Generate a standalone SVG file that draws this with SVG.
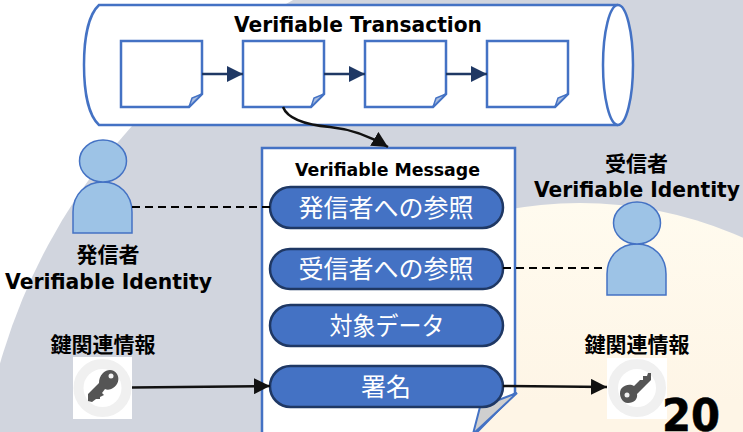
<svg xmlns="http://www.w3.org/2000/svg" width="743" height="432" viewBox="0 0 743 432">
<style>
.l{font-family:"DejaVu Sans","Noto Sans CJK JP",sans-serif;font-weight:700;fill:#000;text-anchor:middle}
.j{font-family:"Noto Sans CJK JP",sans-serif;font-weight:700;font-size:21px;fill:#000;text-anchor:middle}
.p{font-family:"Noto Sans CJK JP",sans-serif;font-size:25px;fill:#fff;text-anchor:middle}
.doc{fill:#fff;stroke:#4472c4;stroke-width:2.5}
.fold{fill:#a9bde0;stroke:#4472c4;stroke-width:1.5}
.pill{fill:#4472c4;stroke:#1f3864;stroke-width:2.5}
.per{fill:#9dc3e6;stroke:#4472c4;stroke-width:1.5}
.key{fill:#555}
.ring{fill:none;stroke:#f0f0f0;stroke-width:10}
.nav{stroke:#1f3864;stroke-width:2.5;fill:none;marker-end:url(#an)}
.blk{stroke:#111;stroke-width:2.5;fill:none;marker-end:url(#ab)}
.dash{stroke:#000;stroke-width:2;stroke-dasharray:8 5;fill:none}
</style>
<defs>
<marker id="an" markerUnits="userSpaceOnUse" markerWidth="16" markerHeight="16" refX="16" refY="8" orient="auto"><path d="M0 0L16 8L0 16Z" fill="#1f3864"/></marker>
<marker id="ab" markerUnits="userSpaceOnUse" markerWidth="16" markerHeight="16" refX="16" refY="8" orient="auto"><path d="M0 0L16 8L0 16Z" fill="#111"/></marker>
<linearGradient id="cr" x1="0" y1="0" x2="0" y2="1"><stop offset="0" stop-color="#fffbef"/><stop offset="0.25" stop-color="#fef5e6"/></linearGradient>
<clipPath id="crc"><rect x="265" y="0" width="478" height="432"/></clipPath>
</defs>
<rect width="743" height="432" fill="#fff"/>
<circle cx="576" cy="528" r="599" fill="#d1d5de"/>
<circle cx="580" cy="603" r="400" fill="url(#cr)" clip-path="url(#crc)"/>

<g id="cylinder">
<path d="M618 5H99C88 15 84 40 84 65C84 90 88 115 99 125H618" fill="#fff" stroke="#4472c4" stroke-width="2.5"/>
<ellipse cx="618" cy="65" rx="15" ry="60" fill="#fff" stroke="#4472c4" stroke-width="2.5"/>
<text class="l" x="358" y="32" font-size="21" textLength="248" lengthAdjust="spacingAndGlyphs">Verifiable Transaction</text>
</g>
<g id="block1"><path class="doc" d="M121 41H202V94L189 107H121Z"/><path class="fold" d="M189 107L192 98L202 94Z"/></g>
<g id="block2"><path class="doc" d="M243 41H324V94L311 107H243Z"/><path class="fold" d="M311 107L314 98L324 94Z"/></g>
<g id="block3"><path class="doc" d="M365 41H446V94L433 107H365Z"/><path class="fold" d="M433 107L436 98L446 94Z"/></g>
<g id="block4"><path class="doc" d="M487 41H568V94L555 107H487Z"/><path class="fold" d="M555 107L558 98L568 94Z"/></g>

<g id="message">
<path class="doc" d="M262 148H515V393L473 436H262Z"/>
<path d="M517 393L480 407L473 434Z" fill="#cfcfcf" stroke="#4472c4" stroke-width="2"/>
<text class="l" x="387.500" y="176" font-size="18" textLength="185" lengthAdjust="spacingAndGlyphs">Verifiable Message</text>
</g>
<g id="ref-sender"><rect class="pill" x="270" y="187" width="233" height="41" rx="20.500"/><text class="p" x="386" y="217">発信者への参照</text></g>
<g id="ref-receiver"><rect class="pill" x="270" y="249" width="233" height="40" rx="20"/><text class="p" x="386" y="278">受信者への参照</text></g>
<g id="data"><rect class="pill" x="270" y="305" width="233" height="41" rx="20.500"/><text class="p" x="387" y="335" textLength="115" lengthAdjust="spacingAndGlyphs">対象データ</text></g>
<g id="signature"><rect class="pill" x="270" y="366" width="233" height="41" rx="20.500"/><text class="p" x="386" y="396">署名</text></g>

<g id="sender">
<path class="per" d="M73 233V212C73 194 86 182 103 182C119 182 132 194 132 212V233Z"/>
<ellipse class="per" cx="103" cy="161" rx="23.500" ry="21"/>
<text class="j" x="108" y="262">発信者</text>
<text class="l" x="108.500" y="289" font-size="21" textLength="207" lengthAdjust="spacingAndGlyphs">Verifiable Identity</text>
</g>
<g id="receiver">
<path class="per" d="M607 295V274C607 256 620 244 637 244C653 244 666 256 666 274V295Z"/>
<ellipse class="per" cx="637" cy="223" rx="23.500" ry="21"/>
<text class="j" x="636.500" y="171">受信者</text>
<text class="l" x="637" y="197" font-size="21" textLength="206" lengthAdjust="spacingAndGlyphs">Verifiable Identity</text>
</g>

<g id="key-left">
<text class="j" x="103" y="352">鍵関連情報</text>
<rect x="73" y="357" width="59" height="62" fill="#fff"/>
<circle class="ring" cx="102.500" cy="388" r="24"/>
<path class="key" d="M103 373C107 369 114 369 117 374C120 379 118 385 113 388C110 390 107 390 105 389L102 393L104 395L100 397V399L96 399L92 402L88 401V394L99 383C99 379 100 376 103 373Z"/>
<circle cx="111" cy="376" r="2.500" fill="#f4f4f4"/>
</g>
<g id="key-right">
<text class="j" x="637" y="352">鍵関連情報</text>
<rect x="607" y="358" width="60" height="61" fill="#fff"/>
<circle class="ring" cx="637" cy="388" r="24"/>
<path class="key" d="M621 389C625 384 631 384 634 386L640 380H643V376H647L648 373H651V380L637 394C638 399 634 403 628 403C622 403 618 395 621 389Z"/>
<circle cx="627" cy="395" r="2.500" fill="#f0f0f0"/>
</g>

<g id="connectors">
<path class="nav" d="M202 74H243"/>
<path class="nav" d="M324 74H365"/>
<path class="nav" d="M446 74H487"/>
<path class="blk" d="M283 107C288 120 308 125 330 127C350 129 368 135 388 147"/>
<path class="dash" d="M132 207H270"/>
<path class="dash" d="M503 268H607"/>
<path class="blk" d="M132 387.500L270 386"/>
<path class="blk" d="M503 386L607 387"/>
</g>
<text id="page" class="l" x="691" y="431" font-size="44" textLength="58" lengthAdjust="spacingAndGlyphs" stroke="#000" stroke-width="0.600">20</text>
</svg>
